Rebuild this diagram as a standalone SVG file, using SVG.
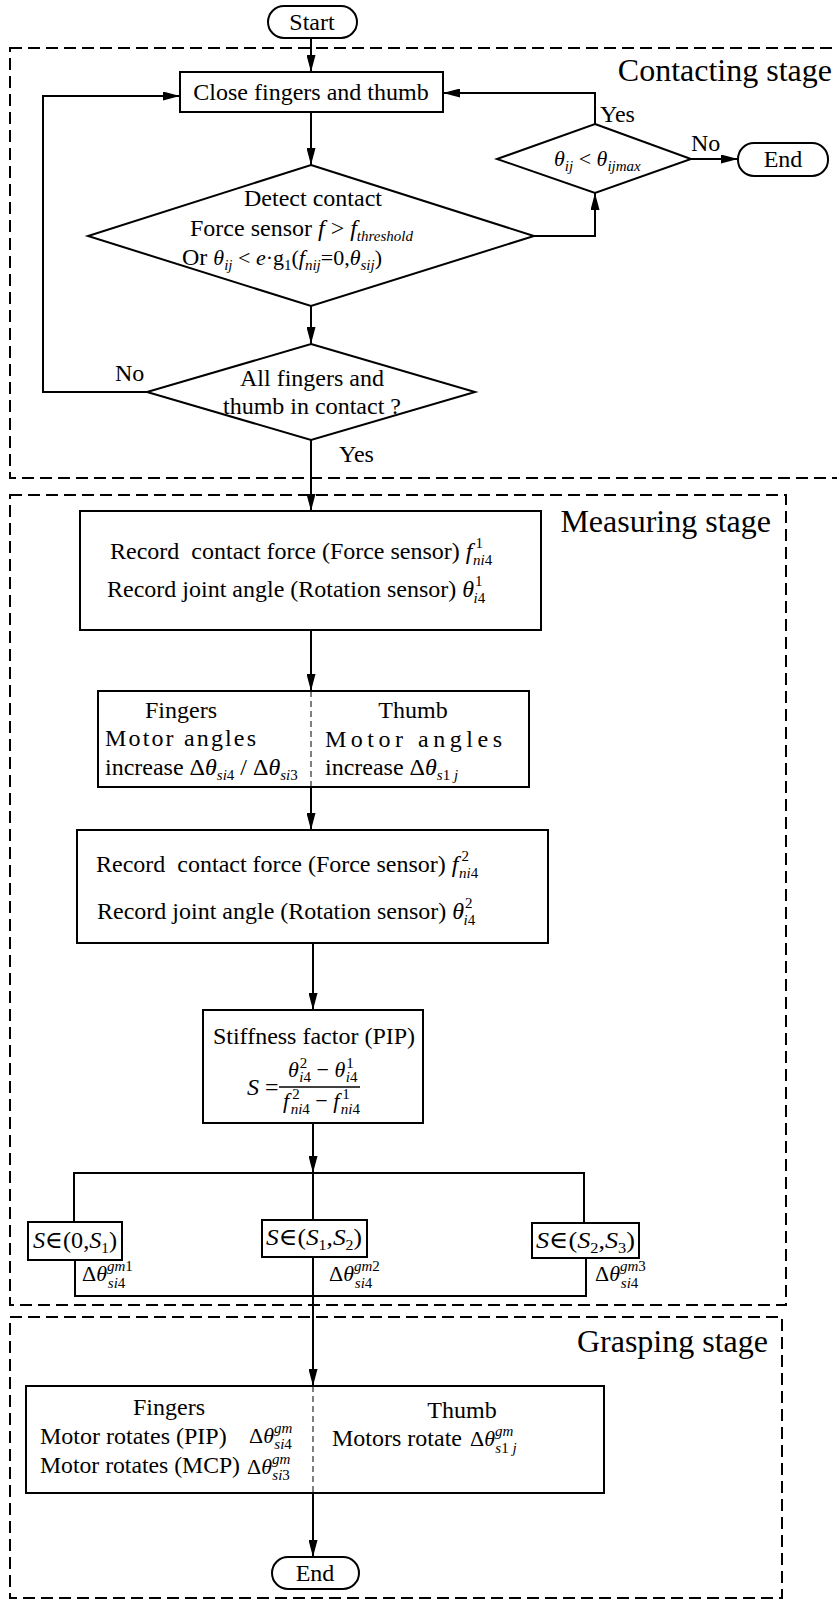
<svg xmlns="http://www.w3.org/2000/svg" width="837" height="1600" viewBox="0 0 837 1600">
<defs>
<style>
text { font-family: "Liberation Serif", "DejaVu Serif", serif; fill: #000; font-size: 24px; }
.i { font-style: italic; }
.big { font-size: 32px; }
.m { font-size: 22px; }
.s { font-size: 15px; }
.box { fill: #fff; stroke: #000; stroke-width: 2; }
.stage { fill: none; stroke: #000; stroke-width: 2; stroke-dasharray: 12 6; }
.ln { fill: none; stroke: #000; stroke-width: 2; }
.arr { marker-end: url(#ah); }
.div { stroke: #000; stroke-width: 1; stroke-dasharray: 6 4; fill: none; }
.c { text-anchor: middle; }
.e { text-anchor: end; }
</style>
<marker id="ah" markerUnits="userSpaceOnUse" markerWidth="17" markerHeight="9" refX="17" refY="4.5" orient="auto">
<path d="M0,0 L17,4.5 L0,9 Z" fill="#000"/>
</marker>
</defs>
<rect width="837" height="1600" fill="#fff"/>

<g id="stages">
<rect class="stage" x="10" y="48" width="850" height="430"/>
<text class="big e" x="832" y="81">Contacting stage</text>
<rect class="stage" x="10" y="495" width="776" height="810"/>
<text class="big e" x="771" y="532">Measuring stage</text>
<rect class="stage" x="10" y="1317" width="772" height="281"/>
<text class="big e" x="768" y="1352">Grasping stage</text>
</g>

<g id="connectors">
<path class="ln arr" d="M311,38 V72"/>
<path class="ln arr" d="M311,112 V165"/>
<path class="ln arr" d="M534,236 H595 V193"/>
<path class="ln arr" d="M595,124 V93 H443"/>
<path class="ln arr" d="M691,159 H738"/>
<path class="ln arr" d="M311,306 V344"/>
<path class="ln arr" d="M147,392 H43 V96 H180"/>
<path class="ln arr" d="M311,440 V511"/>
<path class="ln arr" d="M311,630 V691"/>
<path class="ln arr" d="M311,787 V830"/>
<path class="ln arr" d="M313,943 V1010"/>
<path class="ln arr" d="M313,1123 V1173"/>
<path class="ln" d="M74,1222 V1173 H584 V1223"/>
<path class="ln" d="M313,1173 V1220"/>
<path class="ln" d="M75,1260 V1296 H586 V1258"/>
<path class="ln arr" d="M313,1257 V1386"/>
<path class="ln arr" d="M313,1493 V1557"/>
<text x="600" y="122">Yes</text>
<text x="691" y="151">No</text>
<text x="115" y="381">No</text>
<text x="339" y="462">Yes</text>
</g>

<g id="start">
<rect class="box" x="268" y="6" width="89" height="32" rx="16"/>
<text class="c" x="312" y="30">Start</text>
</g>

<g id="close">
<rect class="box" x="180" y="72" width="263" height="40"/>
<text class="c" x="311" y="100">Close fingers and thumb</text>
</g>

<g id="theta-check">
<polygon class="box" points="595,124 691,159 595,193 497,159"/>
<text x="554" y="166" class="m"><tspan class="i">θ</tspan><tspan class="s i" dy="5">ij</tspan><tspan dy="-5"> &lt; </tspan><tspan class="i">θ</tspan><tspan class="s i" dy="5">ijmax</tspan></text>
</g>

<g id="end-top">
<rect class="box" x="738" y="143" width="90" height="33" rx="16"/>
<text class="c" x="783" y="167">End</text>
</g>

<g id="detect">
<polygon class="box" points="311,165 534,236 311,306 88,236"/>
<text class="c" x="313" y="206">Detect contact</text>
<text x="190" y="236" style="white-space:pre">Force sensor <tspan class="i">f</tspan> &gt; <tspan class="i">f</tspan><tspan class="s i" dy="5">threshold</tspan></text>
<text x="182" y="265" style="white-space:pre">Or <tspan class="m i">θ</tspan><tspan class="s i" dy="5">ij</tspan><tspan class="m" dy="-5"> &lt; </tspan><tspan class="m i">e</tspan><tspan class="m">·g</tspan><tspan class="s" dy="5">1</tspan><tspan class="m" dy="-5">(</tspan><tspan class="m i">f</tspan><tspan class="s i" dy="5">nij</tspan><tspan class="m" dy="-5">=0,</tspan><tspan class="m i">θ</tspan><tspan class="s i" dy="5">sij</tspan><tspan class="m" dy="-5">)</tspan></text>
</g>

<g id="all-contact">
<polygon class="box" points="311,344 475,392 311,440 147,392"/>
<text class="c" x="312" y="386">All fingers and</text>
<text class="c" x="312" y="414">thumb in contact ?</text>
</g>

<g id="record1">
<rect class="box" x="80" y="511" width="461" height="119"/>
<text x="110" y="559" style="white-space:pre">Record  contact force (Force sensor) <tspan class="i">f</tspan><tspan class="s" dx="3" dy="-11">1</tspan><tspan class="s i" dx="-10" dy="17">ni</tspan><tspan class="s">4</tspan></text>
<text x="107" y="597" style="white-space:pre">Record joint angle (Rotation sensor) <tspan class="i">θ</tspan><tspan class="s" dx="1" dy="-11">1</tspan><tspan class="s i" dx="-9" dy="17">i</tspan><tspan class="s">4</tspan></text>
</g>

<g id="increase1">
<rect class="box" x="98" y="691" width="431" height="96"/>
<line class="div" x1="311" y1="691" x2="311" y2="787"/>
<text class="c" x="181" y="718">Fingers</text>
<text class="c" x="413" y="718">Thumb</text>
<text x="105" y="746" textLength="151" lengthAdjust="spacing">Motor angles</text>
<text x="325" y="747" textLength="177" lengthAdjust="spacing">Motor angles</text>
<text x="105" y="775" style="white-space:pre">increase Δ<tspan class="i">θ</tspan><tspan class="s i" dy="5">si</tspan><tspan class="s">4</tspan><tspan dy="-5"> / Δ</tspan><tspan class="i">θ</tspan><tspan class="s i" dy="5">si</tspan><tspan class="s">3</tspan></text>
<text x="325" y="775" style="white-space:pre">increase Δ<tspan class="i">θ</tspan><tspan class="s i" dy="5">s</tspan><tspan class="s">1 </tspan><tspan class="s i">j</tspan></text>
</g>

<g id="record2">
<rect class="box" x="77" y="830" width="471" height="113"/>
<text x="96" y="872" style="white-space:pre">Record  contact force (Force sensor) <tspan class="i">f</tspan><tspan class="s" dx="3" dy="-11">2</tspan><tspan class="s i" dx="-10" dy="17">ni</tspan><tspan class="s">4</tspan></text>
<text x="97" y="919" style="white-space:pre">Record joint angle (Rotation sensor) <tspan class="i">θ</tspan><tspan class="s" dx="1" dy="-11">2</tspan><tspan class="s i" dx="-9" dy="17">i</tspan><tspan class="s">4</tspan></text>
</g>

<g id="stiffness">
<rect class="box" x="203" y="1010" width="220" height="113"/>
<text class="c" x="314" y="1044">Stiffness factor (PIP)</text>
<text x="247" y="1095" style="white-space:pre"><tspan class="i">S</tspan> =</text>
<text x="288" y="1077" class="m" style="white-space:pre"><tspan class="i">θ</tspan><tspan class="s" dx="1" dy="-9">2</tspan><tspan class="s i" dx="-8" dy="14">i</tspan><tspan class="s">4</tspan><tspan dy="-5"> − </tspan><tspan class="i">θ</tspan><tspan class="s" dx="1" dy="-9">1</tspan><tspan class="s i" dx="-8" dy="14">i</tspan><tspan class="s">4</tspan></text>
<line x1="279" y1="1087" x2="360" y2="1087" stroke="#000" stroke-width="1.3"/>
<text x="283" y="1108" class="m" style="white-space:pre"><tspan class="i">f</tspan><tspan class="s" dx="3" dy="-9">2</tspan><tspan class="s i" dx="-9" dy="15">ni</tspan><tspan class="s">4</tspan><tspan dy="-6"> − </tspan><tspan class="i">f</tspan><tspan class="s" dx="3" dy="-9">1</tspan><tspan class="s i" dx="-9" dy="15">ni</tspan><tspan class="s">4</tspan></text>
</g>

<g id="range1">
<rect class="box" x="28" y="1222" width="94" height="38"/>
<text x="33" y="1248" textLength="84" lengthAdjust="spacingAndGlyphs"><tspan class="i">S</tspan>∈(0,<tspan class="i">S</tspan><tspan class="s" dy="5">1</tspan><tspan dy="-5">)</tspan></text>
<text x="82" y="1281" class="m"><tspan>Δ</tspan><tspan class="i">θ</tspan><tspan class="s i" dy="-10">gm</tspan><tspan class="s">1</tspan><tspan class="s i" dx="-25" dy="17">si</tspan><tspan class="s">4</tspan></text>
</g>

<g id="range2">
<rect class="box" x="262" y="1220" width="105" height="37"/>
<text x="266" y="1245" textLength="96" lengthAdjust="spacingAndGlyphs"><tspan class="i">S</tspan>∈(<tspan class="i">S</tspan><tspan class="s" dy="5">1</tspan><tspan dy="-5">,</tspan><tspan class="i">S</tspan><tspan class="s" dy="5">2</tspan><tspan dy="-5">)</tspan></text>
<text x="329" y="1281" class="m"><tspan>Δ</tspan><tspan class="i">θ</tspan><tspan class="s i" dy="-10">gm</tspan><tspan class="s">2</tspan><tspan class="s i" dx="-25" dy="17">si</tspan><tspan class="s">4</tspan></text>
</g>

<g id="range3">
<rect class="box" x="532" y="1223" width="107" height="35"/>
<text x="536" y="1248" textLength="99" lengthAdjust="spacingAndGlyphs"><tspan class="i">S</tspan>∈(<tspan class="i">S</tspan><tspan class="s" dy="5">2</tspan><tspan dy="-5">,</tspan><tspan class="i">S</tspan><tspan class="s" dy="5">3</tspan><tspan dy="-5">)</tspan></text>
<text x="595" y="1281" class="m"><tspan>Δ</tspan><tspan class="i">θ</tspan><tspan class="s i" dy="-10">gm</tspan><tspan class="s">3</tspan><tspan class="s i" dx="-25" dy="17">si</tspan><tspan class="s">4</tspan></text>
</g>

<g id="grasp">
<rect class="box" x="26" y="1386" width="578" height="107"/>
<line class="div" x1="313" y1="1386" x2="313" y2="1493"/>
<text class="c" x="169" y="1415">Fingers</text>
<text class="c" x="462" y="1418">Thumb</text>
<text x="40" y="1444">Motor rotates (PIP)</text>
<text x="249" y="1443" class="m">Δ<tspan class="i">θ</tspan><tspan class="s i" dy="-10">gm</tspan><tspan class="s i" dx="-18" dy="16">si</tspan><tspan class="s">4</tspan></text>
<text x="40" y="1473" textLength="200" lengthAdjust="spacingAndGlyphs">Motor rotates (MCP)</text>
<text x="247" y="1474" class="m">Δ<tspan class="i">θ</tspan><tspan class="s i" dy="-10">gm</tspan><tspan class="s i" dx="-18" dy="16">si</tspan><tspan class="s">3</tspan></text>
<text x="332" y="1446">Motors rotate</text>
<text x="470" y="1446" class="m" style="white-space:pre">Δ<tspan class="i">θ</tspan><tspan class="s i" dy="-10">gm</tspan><tspan class="s i" dx="-18" dy="17">s</tspan><tspan class="s">1 </tspan><tspan class="s i">j</tspan></text>
</g>

<g id="end-bottom">
<rect class="box" x="272" y="1557" width="87" height="32" rx="16"/>
<text class="c" x="315" y="1581">End</text>
</g>
</svg>
